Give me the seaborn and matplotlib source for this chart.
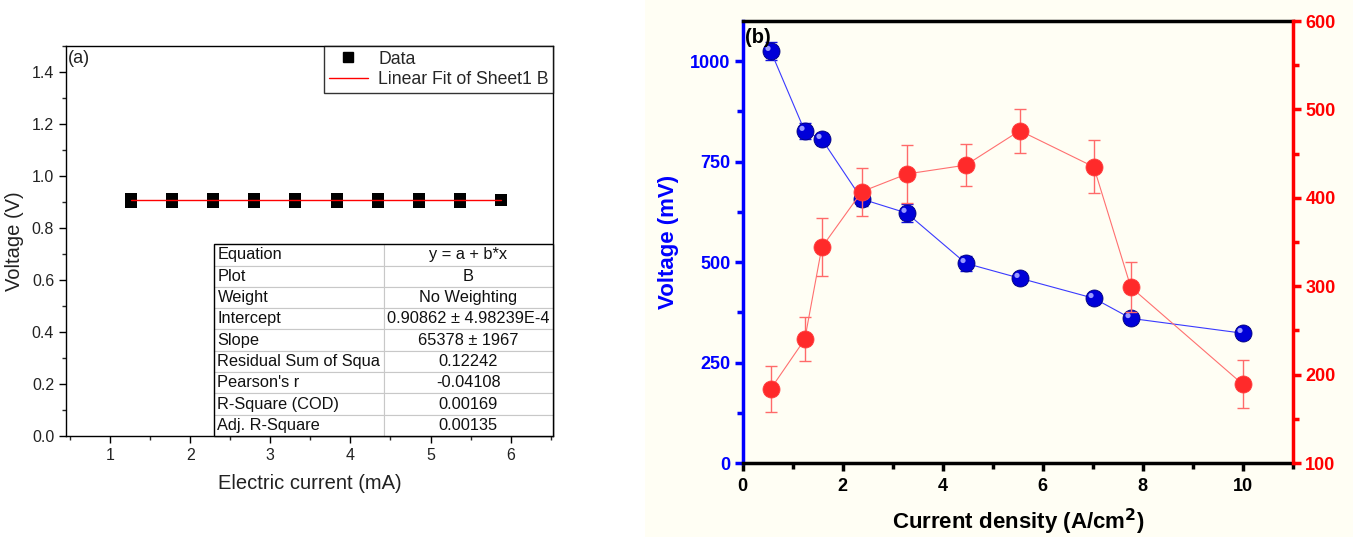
import numpy as np
import pandas as pd
import seaborn as sns
import matplotlib.pyplot as plt
import matplotlib.transforms as mtransforms
from matplotlib.patches import Rectangle
from matplotlib.lines import Line2D
from matplotlib.ticker import MultipleLocator

sns.set_theme(style="ticks")
plt.rcParams["font.family"] = ["Liberation Sans", "DejaVu Sans"]

# ---- panel (a): voltage vs electric current with linear fit ----
current_ma = [1.26, 1.77, 2.29, 2.80, 3.31, 3.83, 4.34, 4.85, 5.37, 5.88]
volt_low = [0.899, 0.899, 0.899, 0.899, 0.899, 0.899, 0.899, 0.899, 0.899, 0.908]
volt_high = [0.913, 0.913, 0.913, 0.913, 0.913, 0.913, 0.913, 0.913, 0.913, 0.908]
fit_x = [1.26, 5.88]
fit_y = [0.9086, 0.9086]

fit_rows = ["Equation", "Plot", "Weight", "Intercept", "Slope",
            "Residual Sum of Squa", "Pearson's r", "R-Square (COD)", "Adj. R-Square"]
fit_vals = ["y = a + b*x", "B", "No Weighting", "0.90862 \u00b1 4.98239E-4",
            "65378 \u00b1 1967", "0.12242", "-0.04108", "0.00169", "0.00135"]

# ---- panel (b): voltage and power vs current density ----
density = [0.56, 1.24, 1.58, 2.38, 3.28, 4.46, 5.54, 7.02, 7.76, 10.0]
voltage_mv = [1025, 826, 806, 657, 622, 497, 460, 410, 360, 323]
voltage_err = [22, 20, 15, 18, 22, 18, 14, 14, 12, 12]
red_vals = [184, 240, 344, 407, 427, 437, 476, 435, 299, 189]
red_err = [26, 25, 33, 27, 33, 24, 25, 30, 28, 27]

cream = "#fffef4"

fig = plt.figure(figsize=(13.53, 5.37), dpi=100)
fig.patch.set_facecolor("white")
fig.add_artist(Rectangle((0.4767, 0), 0.5233, 1, transform=fig.transFigure,
                         facecolor=cream, edgecolor="none", zorder=-10))

# ================= panel (a) =================
ax1 = fig.add_axes([0.0488, 0.188, 0.36, 0.726])
ax1.set_facecolor("white")

df_a = pd.DataFrame({"current": current_ma * 2, "voltage": volt_low + volt_high})
sns.scatterplot(data=df_a, x="current", y="voltage", marker="s", s=80,
                color="black", edgecolor="black", linewidth=0, ax=ax1, zorder=3,
                legend=False)
sns.lineplot(x=fit_x, y=fit_y, color="red", linewidth=1.0, ax=ax1, zorder=4)

ax1.set_xlim(0.45, 6.53)
ax1.set_ylim(0, 1.5)
ax1.xaxis.set_major_locator(MultipleLocator(1))
ax1.xaxis.set_minor_locator(MultipleLocator(0.5))
ax1.yaxis.set_major_locator(MultipleLocator(0.2))
ax1.yaxis.set_minor_locator(MultipleLocator(0.1))
ax1.tick_params(which="major", direction="out", length=5, width=1,
                labelsize=11.5, colors="black", labelcolor="#222222")
ax1.tick_params(which="minor", direction="out", length=3, width=1)
for sp in ax1.spines.values():
    sp.set_color("black")
    sp.set_linewidth(1)
ax1.set_xlabel("Electric current (mA)", fontsize=14.5, color="#222222", labelpad=8)
ax1.set_ylabel("Voltage (V)", fontsize=14.5, color="#222222", labelpad=6)
ax1.text(0.004, 0.99, "(a)", transform=ax1.transAxes, ha="left", va="top",
         fontsize=13, color="#222222")

handles = [Line2D([], [], marker="s", color="black", linestyle="none", markersize=7),
           Line2D([], [], color="red", linewidth=1)]
leg = ax1.legend(handles, ["Data", "Linear Fit of Sheet1 B"], loc="upper right",
                 fontsize=12.7, frameon=True, fancybox=False, borderaxespad=0,
                 handlelength=2.2, borderpad=0.25, labelspacing=0.2,
                 handletextpad=0.6)
leg.get_frame().set_edgecolor("black")
leg.get_frame().set_linewidth(1)

tbl = ax1.table(cellText=[[r, v] for r, v in zip(fit_rows, fit_vals)],
                cellLoc="center", bbox=[0.304, 0.0, 0.696, 0.492], zorder=5)
tbl.auto_set_font_size(False)
tbl.set_fontsize(11.8)
for (r, c), cell in tbl.get_celld().items():
    cell.set_edgecolor("#c8c8c8")
    cell.set_linewidth(0.8)
    cell.set_facecolor("white")
    cell.get_text().set_color("#111111")
    if c == 0:
        cell.get_text().set_ha("left")
        cell.PAD = 0.02
ax1.add_patch(Rectangle((0.304, 0.0), 0.696, 0.492, transform=ax1.transAxes,
                        fill=False, edgecolor="black", linewidth=1, zorder=6,
                        clip_on=False))

# ================= panel (b) =================
ax2 = fig.add_axes([0.549, 0.1378, 0.4065, 0.823])
ax2.set_facecolor(cream)
ax3 = ax2.twinx()

df_b = pd.DataFrame({"density": density, "voltage": voltage_mv,
                     "verr": voltage_err, "red": red_vals, "rerr": red_err})

ax2.errorbar(df_b["density"], df_b["voltage"], yerr=df_b["verr"], fmt="none",
             ecolor="#1010e0", elinewidth=1, capsize=4, capthick=1, zorder=2)
sns.lineplot(data=df_b, x="density", y="voltage", color="#3a3aff",
             linewidth=0.8, ax=ax2, zorder=2)
sns.scatterplot(data=df_b, x="density", y="voltage", s=150, color="#0000d8",
                edgecolor="#00007a", linewidth=0.6, ax=ax2, zorder=3)
shift = mtransforms.ScaledTranslation(-2 / 72, 2 / 72, fig.dpi_scale_trans)
ax2.scatter(df_b["density"], df_b["voltage"], s=14, color="#9a9aff",
            edgecolor="none", transform=ax2.transData + shift, zorder=4)

ax3.errorbar(df_b["density"], df_b["red"], yerr=df_b["rerr"], fmt="none",
             ecolor="#ff6a6a", elinewidth=1, capsize=4, capthick=1, zorder=2)
sns.lineplot(data=df_b, x="density", y="red", color="#ff7070",
             linewidth=0.8, ax=ax3, zorder=2)
sns.scatterplot(data=df_b, x="density", y="red", s=150, color="#ff2a2a",
                edgecolor="#ff4040", linewidth=0.6, ax=ax3, zorder=3)

ax2.set_xlim(0, 11)
ax2.set_ylim(0, 1100)
ax3.set_ylim(100, 600)
ax2.set_xticks([0, 2, 4, 6, 8, 10])
ax2.xaxis.set_minor_locator(MultipleLocator(1))
ax2.set_yticks([0, 250, 500, 750, 1000])
ax2.yaxis.set_minor_locator(MultipleLocator(125))
ax3.set_yticks([100, 200, 300, 400, 500, 600])
ax3.yaxis.set_minor_locator(MultipleLocator(50))

ax2.tick_params(axis="x", which="major", direction="out", length=6, width=2.5,
                colors="black", labelsize=13, pad=5)
ax2.tick_params(axis="x", which="minor", direction="out", length=4, width=2.5,
                colors="black")
ax2.tick_params(axis="y", which="major", direction="out", length=6, width=2.5,
                colors="#0000ff", labelsize=13, pad=3)
ax2.tick_params(axis="y", which="minor", direction="out", length=4, width=2.5,
                colors="#0000ff")
ax3.tick_params(axis="y", which="major", direction="out", length=6, width=2.5,
                colors="#ff0000", labelsize=13, pad=3)
ax3.tick_params(axis="y", which="minor", direction="out", length=4, width=2.5,
                colors="#ff0000")
for lab in ax2.get_xticklabels() + ax2.get_yticklabels() + ax3.get_yticklabels():
    lab.set_fontweight("bold")

ax2.spines["left"].set_color("#0000ff")
ax2.spines["bottom"].set_color("black")
ax2.spines["top"].set_color("black")
ax2.spines["right"].set_visible(False)
for side in ["left", "bottom", "top"]:
    ax2.spines[side].set_linewidth(2.5)
for side in ["left", "bottom", "top"]:
    ax3.spines[side].set_visible(False)
ax3.spines["right"].set_color("#ff0000")
ax3.spines["right"].set_linewidth(2.5)

ax2.set_xlabel("Current density (A/cm$^\\mathbf{2}$)", fontsize=16,
               fontweight="bold", color="black", labelpad=8)
ax2.set_ylabel("Voltage (mV)", fontsize=16, fontweight="bold",
               color="#0000ff", labelpad=8)
ax3.set_ylabel("")
ax2.text(0.004, 0.985, "(b)", transform=ax2.transAxes, ha="left", va="top",
         fontsize=14.5, fontweight="bold", color="black", zorder=10)

fig.savefig("out.png", dpi=100, facecolor=fig.get_facecolor())
